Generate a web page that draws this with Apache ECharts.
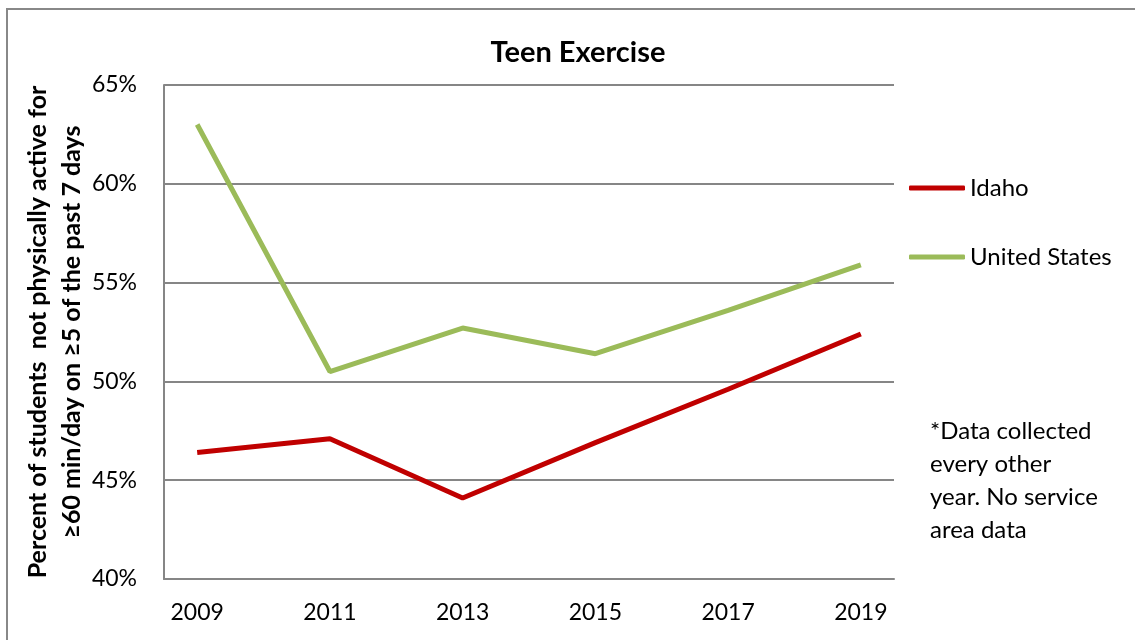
<!DOCTYPE html>
<html>
<head>
<meta charset="utf-8">
<script src="https://cdn.jsdelivr.net/npm/echarts@6/dist/echarts.min.js"></script>
<style>
  html, body { margin: 0; padding: 0; background: #fff; }
  #chart { width: 1135px; height: 640px; }
</style>
</head>
<body>
<div id="chart"></div>
<script>
// 年份与数据
var years = [2009, 2011, 2013, 2015, 2017, 2019];
var idaho = [46.4, 47.1, 44.1, 46.9, 49.6, 52.4];
var unitedStates = [63.0, 50.5, 52.7, 51.4, 53.6, 55.9];
var yTicks = [40, 45, 50, 55, 60, 65];

var font = 'Lato';

function pairs(vals) {
    var out = [];
    for (var i = 0; i < years.length; i++) {
        out.push([years[i], vals[i]]);
    }
    return out;
}

var myChart = echarts.init(document.getElementById('chart'));
var option = {
    animation: false,
    textStyle: { fontFamily: font },
    title: {
        text: 'Teen Exercise',
        left: 573,
        textAlign: 'center',
        top: 33,
        textStyle: { fontFamily: font, fontWeight: 'bold', fontSize: 29, color: '#000' }
    },
    grid: { left: 164, right: 241, top: 85, bottom: 61 },
    legend: {
        orient: 'vertical',
        left: 904,
        top: 171,
        icon: 'roundRect',
        itemWidth: 56,
        itemHeight: 5,
        itemGap: 45,
        textStyle: { fontFamily: font, fontSize: 24, lineHeight: 24, color: '#000' },
        data: ['Idaho', 'United States']
    },
    xAxis: {
        type: 'value',
        min: 2008.5,
        max: 2019.5,
        axisLine: { show: true, lineStyle: { color: '#868686', width: 2 } },
        axisTick: { show: false },
        splitLine: { show: false },
        axisLabel: {
            customValues: years,
            formatter: function (v) { return String(v); },
            margin: 22,
            fontSize: 23,
            color: '#000',
            fontFamily: font
        }
    },
    yAxis: {
        type: 'value',
        min: yTicks[0],
        max: yTicks[yTicks.length - 1],
        interval: 5,
        axisLine: { show: true, lineStyle: { color: '#868686', width: 2 } },
        axisTick: { show: false },
        splitLine: { show: true, lineStyle: { color: '#868686', width: 2 } },
        axisLabel: {
            formatter: '{value}%',
            margin: 27,
            fontSize: 23,
            color: '#000',
            fontFamily: font
        },
        name: 'Percent of students  not physically active for\n≥60 min/day on ≥5 of the past 7 days',
        nameLocation: 'middle',
        nameRotate: 90,
        nameGap: 75,
        nameMoveOverlap: false,
        nameTextStyle: { fontFamily: font, fontWeight: 'bold', fontSize: 25, color: '#000', lineHeight: 34 }
    },
    series: [
        {
            name: 'Idaho',
            type: 'line',
            symbol: 'none',
            data: pairs(idaho),
            lineStyle: { color: '#C00000', width: 5 },
            itemStyle: { color: '#C00000' }
        },
        {
            name: 'United States',
            type: 'line',
            symbol: 'none',
            data: pairs(unitedStates),
            lineStyle: { color: '#9BBB59', width: 5 },
            itemStyle: { color: '#9BBB59' }
        }
    ],
    graphic: [
        {
            type: 'rect',
            shape: { x: 7, y: 9, width: 1200, height: 700 },
            style: { fill: 'none', stroke: '#888', lineWidth: 2 },
            silent: true
        },
        {
            type: 'text',
            left: 930,
            top: 415,
            style: {
                text: '*Data collected\nevery other\nyear. No service\narea data',
                font: '24px Lato',
                lineHeight: 33,
                fill: '#000'
            }
        }
    ]
};
myChart.setOption(option);
</script>
</body>
</html>
